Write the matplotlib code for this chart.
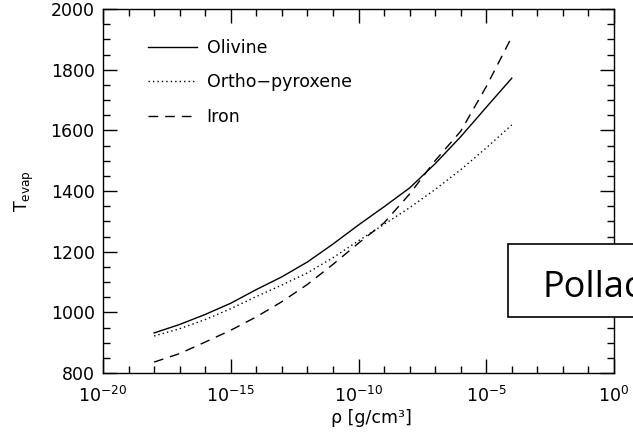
import matplotlib
matplotlib.use("Agg")
import matplotlib.pyplot as plt
import matplotlib.patches as mpatches
from matplotlib.ticker import FixedLocator, FixedFormatter

plt.rcParams['font.family'] = ['DejaVu Sans']
plt.rcParams['mathtext.fontset'] = 'dejavusans'

# data: log10 density exponents and evaporation temperatures
log_rho = [-18, -17, -16, -15, -14, -13, -12, -11, -10, -9, -8, -7, -6, -5, -4]
olivine = [932, 960, 993, 1030, 1075, 1117, 1166, 1225, 1288, 1348, 1410, 1490, 1579, 1676, 1772]
ortho = [922, 946, 976, 1012, 1052, 1090, 1130, 1180, 1236, 1290, 1345, 1405, 1470, 1542, 1618]
iron = [836, 864, 902, 941, 985, 1035, 1092, 1158, 1228, 1295, 1390, 1500, 1597, 1744, 1908]
labels = ['Olivine', 'Ortho\u2212pyroxene', 'Iron']
xtick_exp = [-20, -15, -10, -5, 0]
ytick_vals = [800, 1000, 1200, 1400, 1600, 1800, 2000]

rho = [10.0 ** e for e in log_rho]

W, H = 633, 432
fig = plt.figure(figsize=(W / 100, H / 100), dpi=100)
ax = fig.add_axes([103 / W, 1 - 373 / H, (614 - 103) / W, (373 - 9) / H])

lw = 1.0
ax.plot(rho, olivine, color='black', lw=lw, ls='-', label=labels[0])
ax.plot(rho, ortho, color='black', lw=lw, ls=(0, (1, 2.2)), label=labels[1])
ax.plot(rho, iron, color='black', lw=lw, ls=(0, (7, 5)), label=labels[2])

ax.set_xscale('log')
ax.set_xlim(1e-20, 1e0)
ax.set_ylim(800, 2000)

ax.xaxis.set_major_locator(FixedLocator([10.0 ** e for e in xtick_exp]))
ax.xaxis.set_major_formatter(FixedFormatter([r'$10^{%d}$' % e for e in xtick_exp]))
ax.xaxis.set_minor_locator(FixedLocator([10.0 ** e for e in range(-20, 1)]))
ax.xaxis.set_minor_formatter(FixedFormatter([''] * 21))
ax.set_yticks(ytick_vals)
ax.set_yticks(list(range(800, 2001, 50)), minor=True)

ax.tick_params(which='both', direction='in', top=True, right=True, width=1.0,
               labelsize=12.5)
ax.tick_params(axis='y', which='both', pad=6)
ax.tick_params(axis='x', which='both', pad=9)
ax.tick_params(which='major', length=10)
ax.tick_params(which='minor', length=5)
for s in ax.spines.values():
    s.set_linewidth(1.0)

ax.set_xlabel('\u03c1 [g/cm\u00b3]', fontsize=12.5, labelpad=2)
ax.xaxis.set_label_coords((371 - 103) / 511, -0.098)
ax.set_ylabel(r'$\mathrm{T_{evap}}$', fontsize=12.5)
ax.yaxis.set_label_coords((36 - 103) / 511, 0.5)

leg = ax.legend(loc='upper left', bbox_to_anchor=((148 - 103) / 511, (373 - 39) / 364),
                frameon=False, fontsize=12.5, handlelength=2.8, handletextpad=0.57,
                labelspacing=0.95, borderpad=0, borderaxespad=0)

# overlay box
rect = mpatches.Rectangle((508 / W, 1 - 317 / H), 140 / W, 73 / H, transform=fig.transFigure,
                          facecolor='white', edgecolor='black', lw=1.2, zorder=10)
fig.patches.append(rect)
fig.text(543 / W, 1 - 297 / H, 'Pollack', fontsize=26, family='Open Sans',
         ha='left', va='baseline', zorder=11)

fig.savefig('out.png', dpi=100)
